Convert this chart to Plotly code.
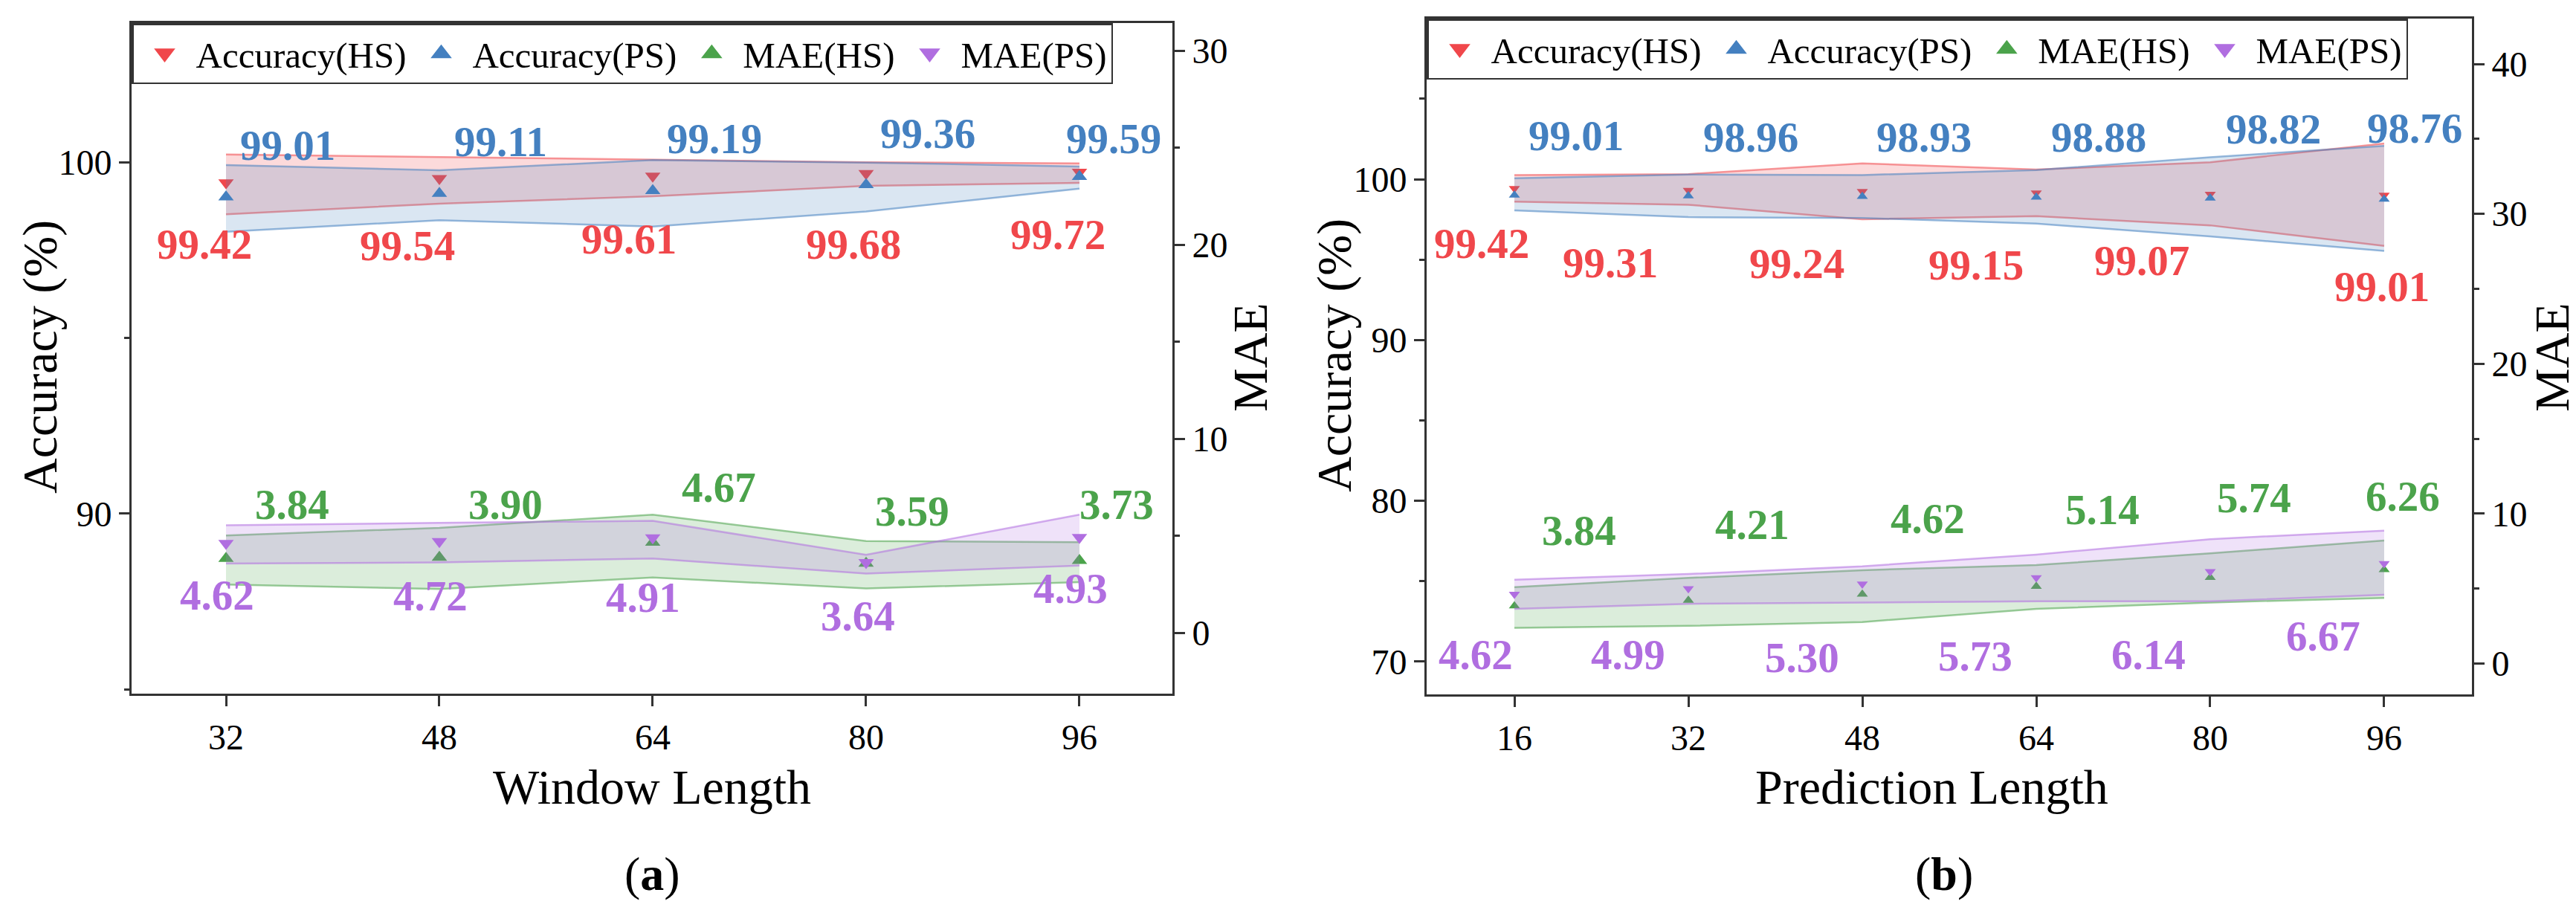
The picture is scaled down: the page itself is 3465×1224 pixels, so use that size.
import plotly.graph_objects as go

# ---- data: panel (a) window length ----
window = [32, 48, 64, 80, 96]
acc_hs_a = [99.42, 99.54, 99.61, 99.68, 99.72]
acc_ps_a = [99.01, 99.11, 99.19, 99.36, 99.59]
mae_hs_a = [3.84, 3.90, 4.67, 3.59, 3.73]
mae_ps_a = [4.62, 4.72, 4.91, 3.64, 4.93]

# shaded bands (upper / lower edge)
acc_hs_a_hi = [100.22, 100.15, 100.08, 100.00, 99.97]
acc_hs_a_lo = [98.52, 98.82, 99.03, 99.33, 99.41]
acc_ps_a_hi = [99.92, 99.77, 100.06, 99.99, 99.88]
acc_ps_a_lo = [98.02, 98.35, 98.17, 98.60, 99.25]
mae_hs_a_hi = [5.03, 5.42, 6.10, 4.74, 4.68]
mae_hs_a_lo = [2.50, 2.27, 2.86, 2.30, 2.62]
mae_ps_a_hi = [5.55, 5.68, 5.78, 4.03, 6.10]
mae_ps_a_lo = [3.58, 3.64, 3.84, 3.06, 3.48]

# ---- data: panel (b) prediction length ----
pred = [16, 32, 48, 64, 80, 96]
acc_hs_b = [99.42, 99.31, 99.24, 99.15, 99.07, 99.01]
acc_ps_b = [99.01, 98.96, 98.93, 98.88, 98.82, 98.76]
mae_hs_b = [3.84, 4.21, 4.62, 5.14, 5.74, 6.26]
mae_ps_b = [4.62, 4.99, 5.30, 5.73, 6.14, 6.67]

acc_hs_b_hi = [100.26, 100.32, 100.99, 100.60, 101.06, 102.22]
acc_hs_b_lo = [98.60, 98.41, 97.51, 97.70, 97.13, 95.85]
acc_ps_b_hi = [100.06, 100.29, 100.26, 100.57, 101.37, 102.07]
acc_ps_b_lo = [98.06, 97.64, 97.59, 97.24, 96.44, 95.54]
mae_hs_b_hi = [5.10, 5.71, 6.23, 6.57, 7.35, 8.21]
mae_hs_b_lo = [2.38, 2.51, 2.77, 3.64, 4.07, 4.38]
mae_ps_b_hi = [5.59, 5.97, 6.49, 7.27, 8.30, 8.87]
mae_ps_b_lo = [3.64, 3.98, 4.07, 4.15, 4.15, 4.59]

# ---- style ----
W, H = 3465, 1224
FONT = "Liberation Serif"
RED, BLUE, GREEN, PURPLE = "#F0474B", "#4480C0", "#4BA34B", "#B06EE0"
AXIS = "#333333"


def rgba(hex_color, a):
    h = hex_color.lstrip("#")
    r, g, b = int(h[0:2], 16), int(h[2:4], 16), int(h[4:6], 16)
    return f"rgba({r},{g},{b},{a})"


# label nudges in px (dx, dy) per point, only used to place value labels
shift_a = {
    "acc_hs": ([-29, -43, -32, -17, -29], [-83, -91, -85, -95, -84]),
    "acc_ps": ([83, 83, 83, 83, 46], [70, 70, 70, 69, 51]),
    "mae_hs": ([89, 89, 89, 62, 50], [73, 71, 74, 70, 76]),
    "mae_ps": ([-12, -12, -13, -11, -12], [-70, -73, -80, -72, -69]),
}
shift_b = {
    "acc_hs": ([-44, -105, -88, -81, -92, -3], [-74, -98, -97, -97, -89, -123]),
    "acc_ps": ([83, 84, 83, 84, 85, 41], [80, 79, 80, 81, 93, 95]),
    "mae_hs": ([87, 86, 88, 89, 59, 25], [102, 102, 102, 103, 107, 99]),
    "mae_ps": ([-52, -81, -81, -82, -83, -82], [-81, -89, -99, -106, -112, -97]),
}

fig = go.Figure()
legend_items = []


def add_series(x, vals, lo, hi, color, symbol, name, xa, ya, legend, msize, shifts):
    fig.add_trace(go.Scatter(x=x, y=lo, xaxis=xa, yaxis=ya, mode="lines",
                             line=dict(color=rgba(color, 0.55), width=2.5),
                             showlegend=False, hoverinfo="skip"))
    fig.add_trace(go.Scatter(x=x, y=hi, xaxis=xa, yaxis=ya, mode="lines",
                             line=dict(color=rgba(color, 0.55), width=2.5),
                             fill="tonexty", fillcolor=rgba(color, 0.2),
                             showlegend=False, hoverinfo="skip"))
    fig.add_trace(go.Scatter(x=x, y=vals, xaxis=xa, yaxis=ya, mode="markers",
                             marker=dict(symbol=symbol, size=msize, color=color),
                             name=name, showlegend=False))
    legend_items.append((name, color, symbol, xa, ya, legend))
    dxs, dys = shifts
    for xi, v, dx, dy in zip(x, vals, dxs, dys):
        fig.add_annotation(x=xi, y=v, xref=xa, yref=ya, text=f"{v:.2f}",
                           showarrow=False, xshift=dx, yshift=dy,
                           font=dict(family=FONT, size=57, color=color, weight="bold"))


# panel (a)
add_series(window, acc_hs_a, acc_hs_a_lo, acc_hs_a_hi, RED, "triangle-down",
           "Accuracy(HS)", "x", "y", "legend", 18, shift_a["acc_hs"])
add_series(window, acc_ps_a, acc_ps_a_lo, acc_ps_a_hi, BLUE, "triangle-up",
           "Accuracy(PS)", "x", "y", "legend", 18, shift_a["acc_ps"])
add_series(window, mae_hs_a, mae_hs_a_lo, mae_hs_a_hi, GREEN, "triangle-up",
           "MAE(HS)", "x", "y2", "legend", 18, shift_a["mae_hs"])
add_series(window, mae_ps_a, mae_ps_a_lo, mae_ps_a_hi, PURPLE, "triangle-down",
           "MAE(PS)", "x", "y2", "legend", 18, shift_a["mae_ps"])

# panel (b)
add_series(pred, acc_hs_b, acc_hs_b_lo, acc_hs_b_hi, RED, "triangle-down",
           "Accuracy(HS)", "x2", "y3", "legend2", 13, shift_b["acc_hs"])
add_series(pred, acc_ps_b, acc_ps_b_lo, acc_ps_b_hi, BLUE, "triangle-up",
           "Accuracy(PS)", "x2", "y3", "legend2", 13, shift_b["acc_ps"])
add_series(pred, mae_hs_b, mae_hs_b_lo, mae_hs_b_hi, GREEN, "triangle-up",
           "MAE(HS)", "x2", "y4", "legend2", 13, shift_b["mae_hs"])
add_series(pred, mae_ps_b, mae_ps_b_lo, mae_ps_b_hi, PURPLE, "triangle-down",
           "MAE(PS)", "x2", "y4", "legend2", 13, shift_b["mae_ps"])

# legend entries: larger symbols than the data markers
for name, color, symbol, xa, ya, legend in legend_items:
    fig.add_trace(go.Scatter(x=[None], y=[None], xaxis=xa, yaxis=ya, mode="markers",
                             marker=dict(symbol=symbol, size=16, color=color,
                                         line=dict(color=color, width=5)),
                             name=name, legend=legend, hoverinfo="skip"))

tick_font = dict(family=FONT, size=48, color="black")
common = dict(showline=True, linewidth=3, linecolor=AXIS, ticks="outside",
              ticklen=14, tickwidth=2.5, tickcolor=AXIS, showgrid=False,
              zeroline=False, tickfont=tick_font)
minor = dict(dtick=5, ticks="outside", ticklen=7, tickwidth=2.5, tickcolor=AXIS,
             showgrid=False)
legend_style = dict(xanchor="left", yanchor="top", orientation="h",
                    traceorder="normal", bgcolor="white", bordercolor=AXIS,
                    borderwidth=2.5, itemwidth=74,
                    font=dict(family=FONT, size=49, color="black"))

ax_a = [169 / W, 1569 / W]
ax_b = [1911 / W, 3317 / W]
fig.update_layout(
    width=W, height=H,
    margin=dict(l=0, r=0, t=0, b=0),
    paper_bgcolor="white", plot_bgcolor="white",
    font=dict(family=FONT, color="black"),
    xaxis=dict(domain=ax_a, range=[24.92, 102.97], tickvals=window,
               anchor="y", mirror=True, **common),
    yaxis=dict(domain=[1 - 925 / H, 1 - 23 / H], range=[84.88, 103.96],
               tick0=0, dtick=10, minor=minor, anchor="x", **common),
    yaxis2=dict(overlaying="y", side="right", anchor="x", range=[-3.12, 31.42],
                tick0=0, dtick=10, minor=minor, **common),
    xaxis2=dict(domain=ax_b, range=[7.93, 104.07], tickvals=pred,
                anchor="y3", mirror=True, **common),
    yaxis3=dict(domain=[1 - 926 / H, 1 - 17 / H], range=[67.96, 109.99],
                tick0=0, dtick=10, minor=minor, anchor="x2", **common),
    yaxis4=dict(overlaying="y3", side="right", anchor="x2", range=[-2.06, 43.03],
                tick0=0, dtick=10, minor=minor, **common),
    legend=dict(x=169 / W, y=1 - 23 / H, **legend_style),
    legend2=dict(x=1911 / W, y=1 - 17 / H, **legend_style),
)

# axis titles and panel captions
title_font = dict(family=FONT, size=66, color="black")
texts = [
    ("Accuracy (%)", 46, 472, -90, title_font),
    ("MAE", 1674, 473, -90, title_font),
    ("Window Length", 869, 1050, 0, title_font),
    ("Accuracy (%)", 1787, 470, -90, title_font),
    ("MAE", 3425, 473, -90, title_font),
    ("Prediction Length", 2590, 1050, 0, title_font),
    ("(<b>a</b>)", 869, 1167, 0, dict(family=FONT, size=64, color="black")),
    ("(<b>b</b>)", 2607, 1167, 0, dict(family=FONT, size=64, color="black")),
]
for txt, px, py, ang, f in texts:
    fig.add_annotation(x=px / W, y=1 - py / H, xref="paper", yref="paper",
                       text=txt, showarrow=False, textangle=ang, font=f,
                       xanchor="center", yanchor="middle")

fig.write_html("out.html")
